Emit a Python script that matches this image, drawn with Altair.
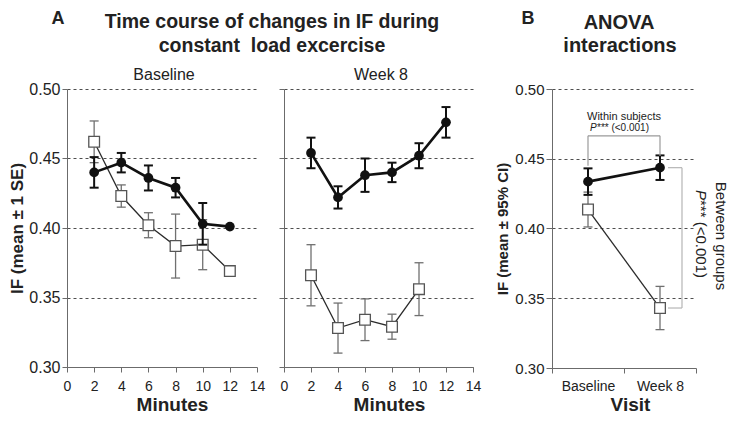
import altair as alt
import pandas as pd

# ---------------- data ----------------
minutes = [2, 4, 6, 8, 10, 12]
minutes_w8_open = [2, 4, 6, 8, 10]

base_filled_mean = [0.440, 0.447, 0.436, 0.429, 0.403, 0.401]
base_filled_se = [0.011, 0.007, 0.009, 0.007, 0.015, 0.0]
base_open_mean = [0.462, 0.423, 0.402, 0.387, 0.388, 0.369]
base_open_se = [0.015, 0.008, 0.009, 0.023, 0.018, 0.0]

w8_filled_mean = [0.454, 0.422, 0.438, 0.440, 0.452, 0.476]
w8_filled_se = [0.011, 0.008, 0.012, 0.007, 0.009, 0.011]
w8_open_mean = [0.366, 0.328, 0.334, 0.329, 0.356]
w8_open_se = [0.022, 0.018, 0.015, 0.009, 0.019]

visits = ["Baseline", "Week 8"]
anova_filled_mean = [0.4336, 0.4436]
anova_filled_ci = [0.0095, 0.0088]
anova_open_mean = [0.4136, 0.3430]
anova_open_ci = [0.0125, 0.0155]

within_bracket_top = [0.4664, 0.4664]
within_bracket_bottom = [0.4450, 0.4520]
between_bracket = [0.4436, 0.3430]

x_ticks = [0, 2, 4, 6, 8, 10, 12, 14]
y_ticks = [0.30, 0.35, 0.40, 0.45, 0.50]

# ---------------- styles ----------------
FONT = "Liberation Sans"
TXT = "#222222"
AX = "#6b6b6b"
GRID = "#3a3a3a"
FILLED = dict(line="#111111", lw=2.6, err="#111111", ew=2.0)
OPEN = dict(line="#2b2b2b", lw=1.3, err="#707070", ew=1.3)


def frame(xs, means, errs):
    return pd.DataFrame({
        "x": xs,
        "mean": means,
        "lo": [m - e for m, e in zip(means, errs)],
        "hi": [m + e for m, e in zip(means, errs)],
        "err": errs,
    })


def y_axis(title=None, labels=True, title_size=17, label_size=16, tick=5, title_pad=2):
    kw = dict(values=y_ticks, format=".2f", grid=True, gridDash=[3, 3], gridColor=GRID,
              gridWidth=0.9, domainColor=AX, tickColor=AX, tickSize=tick, labels=labels,
              labelFontSize=label_size, labelColor=TXT, labelPadding=2)
    if title:
        kw.update(title=title, titleFontSize=title_size, titleFontWeight="bold",
                  titleColor=TXT, titlePadding=title_pad)
    else:
        kw.update(title="")
    return alt.Axis(**kw)


yscale = alt.Scale(domain=[0.30, 0.50], nice=False, zero=False)


def series(df, X, yax, filled):
    s = FILLED if filled else OPEN
    eb = alt.Chart(df[df["err"] > 0])
    base = alt.Chart(df)
    Y = lambda f: alt.Y(f + ":Q", scale=yscale, axis=yax)
    layers = [
        eb.mark_rule(color=s["err"], strokeWidth=s["ew"]).encode(x=X, y=Y("lo"), y2="hi:Q"),
        eb.mark_tick(orient="horizontal", size=9, thickness=s["ew"], color=s["err"], opacity=1).encode(x=X, y=Y("lo")),
        eb.mark_tick(orient="horizontal", size=9, thickness=s["ew"], color=s["err"], opacity=1).encode(x=X, y=Y("hi")),
        base.mark_line(color=s["line"], strokeWidth=s["lw"]).encode(x=X, y=Y("mean")),
    ]
    if filled:
        layers.append(base.mark_circle(color="#111111", size=95, opacity=1).encode(x=X, y=Y("mean")))
    else:
        layers.append(base.mark_square(fill="white", stroke="#555555", strokeWidth=1.3, size=115,
                                       opacity=1).encode(x=X, y=Y("mean")))
    return layers


def label(text, x, y, size=14, weight="normal", align="center", baseline="alphabetic",
          angle=0, style="normal"):
    kw = dict(fontSize=size, fontWeight=weight, align=align, baseline=baseline, color=TXT,
              font=FONT, fontStyle=style)
    if angle:
        kw["angle"] = angle
    return alt.Chart(pd.DataFrame({"t": [text]})).mark_text(**kw).encode(
        text="t:N", x=alt.value(x), y=alt.value(y))


WA, HA = 190, 278


def x_axis_a():
    return alt.Axis(values=x_ticks, grid=False, domainColor=AX, tickColor=AX, tickSize=5,
                    labelFontSize=14, labelColor=TXT, labelPadding=7, labelFlush=False,
                    title="Minutes", titleFontSize=19, titleFontWeight="bold",
                    titleColor=TXT, titlePadding=2, titleX=WA / 2 + 10)


XA = alt.X("x:Q", scale=alt.Scale(domain=[0, 14], nice=False, zero=False), axis=x_axis_a())

# Panel A - Baseline
ya = y_axis("IF (mean ± 1 SE)")
left_layers = (series(frame(minutes, base_open_mean, base_open_se), XA, ya, False)
               + series(frame(minutes, base_filled_mean, base_filled_se), XA, ya, True))
left_layers += [
    label("A", -9, -65, size=18, weight="bold"),
    label("Time course of changes in IF during", 205, -61, size=19.5, weight="bold"),
    label("constant\u00a0 load excercise", 205, -37, size=19.5, weight="bold"),
    label("Baseline", 97, -9, size=16),
]
a_left = alt.layer(*left_layers).properties(width=WA, height=HA)

# Panel A - Week 8
yr = y_axis(labels=False)
right_layers = (series(frame(minutes_w8_open, w8_open_mean, w8_open_se), XA, yr, False)
                + series(frame(minutes, w8_filled_mean, w8_filled_se), XA, yr, True))
right_layers += [label("Week 8", 97, -9, size=16)]
a_right = alt.layer(*right_layers).properties(width=189, height=HA)

# spacer between the two figure parts
spacer = alt.Chart(pd.DataFrame({"t": [""]})).mark_text().encode(text="t:N").properties(width=25, height=HA)

# Panel B
WB, HB = 144, 279
x_axis_b = alt.Axis(tickBand="extent", labelAngle=0, domainColor=AX, tickColor=AX, tickSize=5,
                    labelFontSize=14, labelColor=TXT, labelPadding=6, title="Visit",
                    titleFontSize=19, titleFontWeight="bold", titleColor=TXT, titlePadding=2,
                    titleX=WB / 2 + 6)
XB = alt.X("x:N", scale=alt.Scale(type="band", domain=visits, paddingInner=0, paddingOuter=0),
           axis=x_axis_b)
yb = y_axis("IF (mean ± 95% CI)", title_size=15, label_size=15, tick=6, title_pad=4)
b_layers = (series(frame(visits, anova_open_mean, anova_open_ci), XB, yb, False)
            + series(frame(visits, anova_filled_mean, anova_filled_ci), XB, yb, True))

BR = "#9a9a9a"
within_df = pd.DataFrame({"x": visits, "top": within_bracket_top, "bot": within_bracket_bottom,
                          "x2": [visits[1], visits[1]]})
b_layers += [
    alt.Chart(within_df.iloc[:1]).mark_rule(color=BR, strokeWidth=1.2).encode(
        x=XB, x2="x2", y=alt.Y("top:Q", scale=yscale, axis=yb)),
    alt.Chart(within_df).mark_rule(color=BR, strokeWidth=1.2).encode(
        x=XB, y=alt.Y("top:Q", scale=yscale, axis=yb), y2="bot:Q"),
]
between_df = pd.DataFrame({"x": [visits[1], visits[1]], "y": between_bracket})
b_layers += [
    alt.Chart(between_df).mark_rule(color="#b5b5b5", strokeWidth=1.2, xOffset=8, x2Offset=22).encode(
        x=XB, x2="x", y=alt.Y("y:Q", scale=yscale, axis=yb)),
    alt.Chart(between_df.iloc[:1]).mark_rule(color="#b5b5b5", strokeWidth=1.2, xOffset=22).encode(
        x=XB, y=alt.Y("y:Q", scale=yscale, axis=yb), y2=alt.datum(between_bracket[1])),
]
b_layers += [
    label("B", -24, -65, size=18, weight="bold"),
    label("ANOVA", 67, -60, size=20, weight="bold"),
    label("interactions", 68, -37, size=20, weight="bold"),
    label("Within subjects", 72, 28, size=11, baseline="middle"),
    label("P", 38, 39, size=10, align="left", baseline="middle", style="italic"),
    label("*** (<0.001)", 45, 39, size=10, align="left", baseline="middle"),
    label("Between groups", 169, 147, size=15, baseline="middle", angle=90),
    label("P", 149, 101, size=15, align="left", baseline="middle", angle=90, style="italic"),
    label("*** (<0.001)", 149, 111, size=15, align="left", baseline="middle", angle=90),
]
b_panel = alt.layer(*b_layers).properties(width=WB, height=HB)

chart = alt.hconcat(a_left, a_right, spacer, b_panel, spacing=27, bounds="flush").properties(
    padding={"left": 0, "top": 2, "right": 1, "bottom": 0}
).configure(font=FONT).configure_view(stroke=None)

chart.save("out.html", embed_options={"renderer": "svg", "actions": False})
